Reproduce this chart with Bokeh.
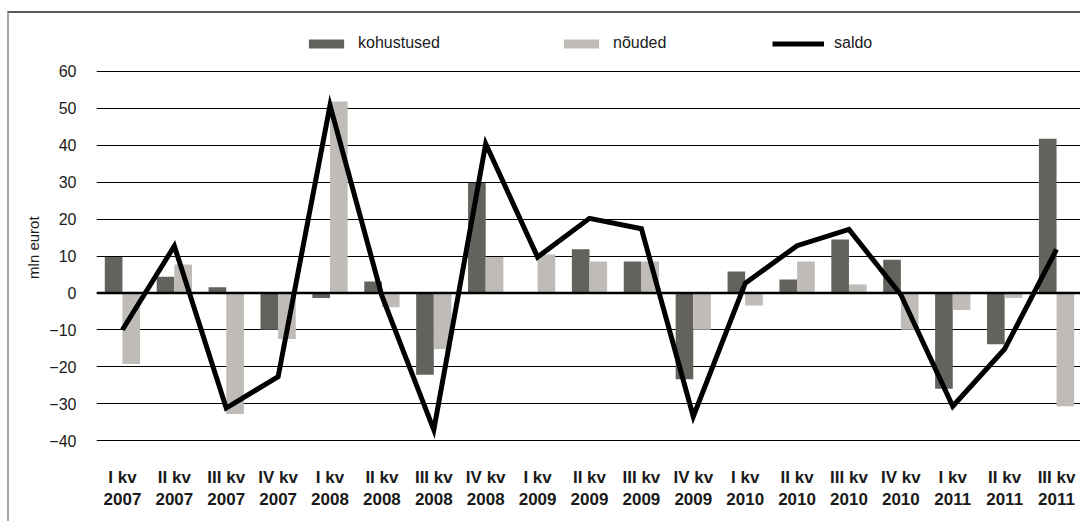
from bokeh.plotting import figure
from bokeh.models import (Range1d, FixedTicker, Span, Legend, LegendItem, ColumnDataSource)
from bokeh.embed import file_html
from bokeh.resources import INLINE

quarters = ["I kv", "II kv", "III kv", "IV kv", "I kv", "II kv", "III kv", "IV kv",
            "I kv", "II kv", "III kv", "IV kv", "I kv", "II kv", "III kv", "IV kv",
            "I kv", "II kv", "III kv"]
years = ["2007", "2007", "2007", "2007", "2008", "2008", "2008", "2008",
         "2009", "2009", "2009", "2009", "2010", "2010", "2010", "2010",
         "2011", "2011", "2011"]
kohustused = [9.7, 4.4, 1.5, -10.0, -1.4, 3.1, -22.2, 29.8,
              -0.3, 11.8, 8.5, -23.4, 5.8, 3.6, 14.5, 9.0,
              -26.0, -13.9, 41.8]
noudedvals = [-19.3, 7.7, -32.8, -12.5, 51.9, -3.9, -15.2, 9.7,
              10.4, 8.5, 8.5, -10.0, -3.4, 8.5, 2.3, -10.0,
              -4.6, -1.4, -30.7]
saldo = [-10.0, 12.7, -31.2, -22.7, 50.8, -0.8, -37.1, 40.4,
         9.7, 20.2, 17.4, -33.5, 2.6, 12.8, 17.2, -0.5,
         -30.7, -15.2, 11.8]
y_ticks = [-40, -30, -20, -10, 0, 10, 20, 30, 40, 50, 60]

FONT = "Liberation Sans"
DARK = "#64625d"
LIGHT = "#bfbbb7"

n = len(quarters)
xs = list(range(1, n + 1))
src = ColumnDataSource(dict(
    x=xs,
    xk=[x - 0.17 for x in xs],
    xn=[x + 0.17 for x in xs],
    k=kohustused, nd=noudedvals, s=saldo))

p = figure(width=1073, height=510, output_backend="svg", toolbar_location=None,
           x_range=Range1d(0.5, n + 0.5), y_range=Range1d(-40.27, 73.82),
           min_border_left=87, min_border_right=0, min_border_top=7, min_border_bottom=82)
p.styles = {"border-top": "2px solid #595959", "border-left": "2px solid #a8a8a8",
            "margin-top": "11px", "margin-left": "7px"}
p.outline_line_color = None
p.background_fill_color = "white"

rk = p.vbar(x="xk", top="k", bottom=0, width=0.34, source=src, fill_color=DARK, line_color=None)
rn = p.vbar(x="xn", top="nd", bottom=0, width=0.34, source=src, fill_color=LIGHT, line_color=None)
p.add_layout(Span(location=0, dimension="width", line_color="black", line_width=2.5))
rs = p.line(x="x", y="s", source=src, line_color="black", line_width=5, line_join="miter")

# grid
p.xgrid.grid_line_color = None
p.ygrid.ticker = FixedTicker(ticks=y_ticks)
p.ygrid.grid_line_color = "black"
p.ygrid.grid_line_width = 1
p.ygrid.level = "underlay"

# y axis
ya = p.yaxis[0]
ya.ticker = FixedTicker(ticks=y_ticks)
ya.axis_line_color = None
ya.major_tick_line_color = None
ya.minor_tick_line_color = None
ya.major_tick_out = 0
ya.major_tick_in = 0
ya.minor_tick_out = 0
ya.major_label_standoff = 20
ya.major_label_text_font = FONT
ya.major_label_text_font_size = "16px"
ya.major_label_text_color = "#1a1a1a"
# trailing no-break spaces shift the centred label down to the gridded area's middle
ya.axis_label = "mln eurot" + "\u00a0" * 8
ya.axis_label_text_font = FONT
ya.axis_label_text_font_size = "15px"
ya.axis_label_text_font_style = "normal"
ya.axis_label_text_color = "#1a1a1a"
ya.axis_label_standoff = 4

# x axis
xa = p.xaxis[0]
xa.ticker = FixedTicker(ticks=xs)
xa.major_label_overrides = {x: f"{q}\n{y}" for x, q, y in zip(xs, quarters, years)}
xa.axis_line_color = None
xa.major_tick_line_color = None
xa.minor_tick_line_color = None
xa.major_tick_out = 0
xa.major_tick_in = 0
xa.minor_tick_out = 0
xa.major_label_standoff = 26
xa.major_label_text_font = FONT
xa.major_label_text_font_size = "17px"
xa.major_label_text_font_style = "bold"
xa.major_label_text_color = "#1a1a1a"

# legends (one per item for precise placement)
def mk_legend(label, rend, x, gw):
    lg = Legend(items=[LegendItem(label=label, renderers=[rend])], location=(x, 389),
                orientation="horizontal", padding=0, margin=0, border_line_color=None,
                background_fill_alpha=0, glyph_width=gw, glyph_height=11, label_standoff=10,
                label_text_font=FONT, label_text_font_size="16px", label_text_color="#1a1a1a")
    p.add_layout(lg, "center")

mk_legend("kohustused", rk, 304 - 96, 44)
mk_legend("nõuded", rn, 559 - 96, 44)
mk_legend("saldo", rs, 772 - 96, 52)

open("out.html", "w").write(file_html(p, INLINE))
